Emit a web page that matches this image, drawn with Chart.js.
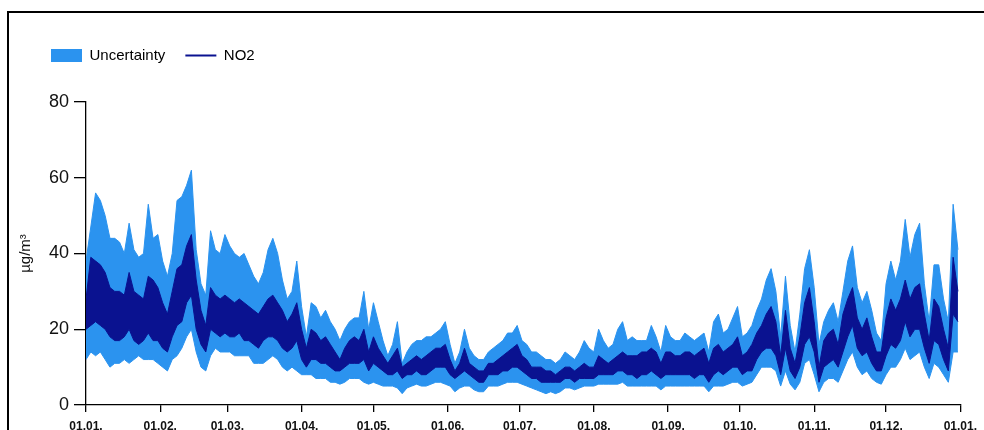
<!DOCTYPE html>
<html>
<head>
<meta charset="utf-8">
<script src="https://cdn.jsdelivr.net/npm/chart.js@4.4.1/dist/chart.umd.min.js"></script>
<style>
    html, body { margin: 0; padding: 0; background: #fff; }
</style>
</head>
<body>
<canvas id="grafico" width="984" height="430"></canvas>
<script>
// one value every 2 days, day 0 = 01.01.
const dayStep = 2;

const monthStarts = [0, 31, 59, 90, 120, 151, 181, 212, 243, 273, 304, 334, 365];
const tickLabels = ['01.01.', '01.02.', '01.03.', '01.04.', '01.05.', '01.06.', '01.07.',
    '01.08.', '01.09.', '01.10.', '01.11.', '01.12.', '01.01.'];

const uncertaintyHigh = [
    38, 47, 56, 54, 50, 44, 44, 43, 40, 48,
    41, 39, 40, 53, 44, 45, 38, 34, 40, 54,
    55, 58, 62, 41, 32, 29, 46, 41, 40, 45,
    42, 40, 39, 40, 37, 34, 32, 35, 41, 44,
    40, 33, 28, 30, 38, 26, 18, 27, 26, 23,
    25, 22, 20, 17, 20, 22, 23, 23, 30, 20,
    27, 22, 17, 13, 16, 22, 11, 14, 16, 17,
    17, 18, 18, 19, 20, 22, 16, 11, 14, 20,
    15, 13, 12, 12, 14, 15, 16, 17, 19, 19,
    21, 17, 16, 14, 14, 13, 12, 12, 11, 12,
    14, 13, 12, 14, 17, 15, 14, 20, 17, 15,
    16, 20, 22, 17, 18, 17, 17, 17, 21, 18,
    14, 21, 18, 17, 17, 19, 18, 17, 18, 19,
    14, 22, 24, 19, 20, 23, 26, 18, 19, 21,
    25, 28, 33, 36, 30, 18, 34, 21, 14, 24,
    36, 41, 31, 16, 22, 25, 27, 22, 30, 38,
    42, 31, 27, 30, 25, 19, 17, 32, 38, 33,
    38, 49, 39, 45, 48, 32, 22, 37, 37, 28,
    22, 53, 41
];

const no2High = [
    28, 39, 38, 37, 35, 31, 30, 30, 29, 35,
    30, 29, 28, 34, 33, 31, 27, 24, 30, 36,
    37, 42, 45, 33, 25, 21, 31, 29, 28, 29,
    28, 27, 28, 27, 26, 25, 24, 26, 28, 29,
    27, 25, 22, 24, 27, 20, 15, 20, 19, 17,
    18, 16, 14, 12, 15, 17, 18, 17, 20, 14,
    18, 15, 13, 11, 13, 15, 10, 11, 12, 13,
    12, 13, 14, 15, 15, 16, 12, 9, 11, 15,
    11, 10, 9, 9, 11, 11, 12, 13, 14, 15,
    16, 13, 12, 10, 10, 10, 9, 9, 8, 9,
    10, 10, 9, 10, 11, 10, 10, 13, 12, 11,
    12, 13, 14, 13, 13, 13, 14, 14, 15, 14,
    11, 14, 14, 13, 13, 14, 14, 13, 14, 15,
    11, 15, 16, 14, 15, 16, 18, 13, 14, 16,
    19, 21, 24, 26, 22, 13, 25, 15, 11, 18,
    27, 31, 22, 10, 17, 19, 20, 16, 24, 28,
    31, 23, 20, 23, 18, 14, 14, 23, 28, 25,
    28, 33, 28, 31, 32, 24, 17, 28, 26, 20,
    15, 39, 30
];

const no2Low = [
    20, 21, 22, 21, 20, 18, 17, 17, 18, 20,
    17, 16, 17, 19, 17, 17, 15, 14, 18, 21,
    22, 27, 29, 20, 16, 14, 20, 19, 18, 19,
    18, 18, 19, 17, 17, 16, 15, 17, 18, 18,
    17, 15, 14, 15, 17, 12, 10, 12, 12, 11,
    11, 10, 9, 9, 10, 11, 11, 11, 12, 9,
    11, 10, 9, 8, 8, 9, 7, 8, 8, 9,
    8, 8, 9, 10, 10, 10, 8, 7, 8, 9,
    8, 7, 6, 6, 8, 8, 8, 9, 9, 10,
    10, 9, 8, 7, 7, 6, 6, 6, 6, 6,
    7, 7, 6, 7, 7, 7, 7, 8, 8, 8,
    8, 9, 9, 8, 8, 7, 8, 8, 9, 8,
    7, 8, 8, 8, 8, 8, 8, 7, 8, 8,
    6, 8, 9, 8, 9, 10, 10, 8, 9, 9,
    12, 14, 15, 15, 13, 8, 15, 9, 7, 10,
    16, 18, 14, 6, 10, 11, 12, 10, 14, 18,
    21, 15, 13, 14, 11, 9, 9, 13, 16, 15,
    17, 22, 18, 20, 20, 15, 11, 17, 16, 12,
    9, 24, 22
];

const uncertaintyLow = [
    12, 14, 13, 14, 12, 10, 11, 11, 12, 11,
    12, 13, 12, 12, 12, 11, 10, 9, 12, 13,
    15, 18, 20, 14, 10, 9, 13, 15, 14, 14,
    14, 13, 13, 13, 13, 11, 11, 11, 12, 13,
    12, 10, 9, 10, 9, 8, 8, 8, 7, 7,
    7, 6, 6, 5.5, 6, 7, 7, 7, 6, 5.5,
    6, 5.5, 5, 5, 5, 4.5, 3, 4.5, 5, 5.5,
    5, 5, 5.5, 6, 6, 5.5, 5, 3.5, 4.5, 5,
    5, 4, 3.5, 3.5, 5, 5, 5, 5.5, 6, 6,
    6, 5.5, 5, 4.5, 4, 3.5, 3, 3.5, 3, 3.5,
    4.5, 4.5, 4, 4.5, 5, 5, 5, 5.5, 5.5, 5.5,
    5.5, 5.5, 6, 5, 5, 5, 5, 5, 5, 5,
    4, 5, 5, 5, 5, 5, 5, 5, 5, 5,
    3.5, 5, 5, 5, 5.5, 6, 6, 5, 5.5, 6,
    8, 10, 10, 10, 9, 5, 9, 5.5, 4, 6,
    11, 12, 8, 3.5, 6, 7, 7, 6, 9, 12,
    14, 10, 8, 9, 7, 6, 5.5, 8, 10, 10,
    12, 15, 12, 13, 14, 10, 7, 11, 10, 8,
    6, 14, 14
];

const azul = '#2b93ef';
const marinho = '#0a1290';

Chart.defaults.font.family = "'Liberation Sans', Arial, sans-serif";

function pontos(valores) {
    return valores.map((v, i) => ({ x: i * dayStep, y: v }));
}

function criarFaixa(label, valores, cor, fill, ordem) {
    return {
        label: label,
        data: pontos(valores),
        fill: fill,
        backgroundColor: cor,
        borderColor: cor,
        borderWidth: 1,
        pointRadius: 0,
        tension: 0,
        order: ordem
    };
}

// black frame of the original picture, legend offset and extra gap under it
const moldura = {
    id: 'moldura',
    beforeUpdate(chart) {
        const legenda = chart.legend;
        if (legenda && !legenda._ajustada) {
            const fitOriginal = legenda.fit;
            legenda.fit = function () {
                fitOriginal.call(this);
                this.height += 29;
            };
            legenda._ajustada = true;
        }
    },
    beforeDraw(chart) {
        const c = chart.ctx;
        c.save();
        c.fillStyle = '#fff';
        c.fillRect(0, 0, chart.width, chart.height);
        c.strokeStyle = '#000';
        c.lineWidth = 2;
        c.beginPath();
        c.moveTo(8, chart.height);
        c.lineTo(8, 12);
        c.lineTo(chart.width, 12);
        c.stroke();
        c.restore();
        chart.legend.left = 31;
    }
};

new Chart(document.getElementById('grafico').getContext('2d'), {
    type: 'line',
    data: {
        datasets: [
            criarFaixa('Uncertainty', uncertaintyHigh, azul, '+1', 2),
            criarFaixa('Uncertainty low', uncertaintyLow, azul, false, 2),
            criarFaixa('NO2', no2High, marinho, '+1', 1),
            criarFaixa('NO2 low', no2Low, marinho, false, 1)
        ]
    },
    options: {
        responsive: false,
        animation: false,
        layout: {
            padding: { top: 28, right: 22, left: 0, bottom: 0 }
        },
        plugins: {
            tooltip: { enabled: false },
            legend: {
                position: 'top',
                align: 'start',
                labels: {
                    usePointStyle: true,
                    pointStyleWidth: 31,
                    boxHeight: 13,
                    padding: 20,
                    color: '#222',
                    font: { size: 15 },
                    generateLabels: () => [
                        { text: 'Uncertainty', fillStyle: azul, strokeStyle: azul, lineWidth: 0,
                          pointStyle: 'rect', datasetIndex: 0, hidden: false },
                        { text: 'NO2', fillStyle: marinho, strokeStyle: marinho, lineWidth: 2,
                          pointStyle: 'line', datasetIndex: 2, hidden: false }
                    ]
                }
            }
        },
        scales: {
            x: {
                type: 'linear',
                min: 0,
                max: 365,
                afterBuildTicks(scale) {
                    scale.ticks = monthStarts.map(v => ({ value: v }));
                },
                afterFit(scale) {
                    scale.height = 25;
                },
                ticks: {
                    autoSkip: false,
                    maxRotation: 0,
                    padding: 7,
                    color: '#111',
                    font: { size: 12, weight: 'bold' },
                    callback: (v, i) => tickLabels[i]
                },
                grid: { drawOnChartArea: false, tickLength: 7, color: '#000', lineWidth: 1.3 },
                border: { color: '#000', width: 1.3 }
            },
            y: {
                min: 0,
                max: 80,
                afterFit(scale) {
                    scale.width = 86;
                },
                ticks: {
                    stepSize: 20,
                    padding: 5,
                    color: '#111',
                    font: { size: 18 }
                },
                grid: { drawOnChartArea: false, tickLength: 12, color: '#000', lineWidth: 1.3 },
                border: { color: '#000', width: 1.3 },
                title: {
                    display: true,
                    text: 'µg/m³',
                    color: '#111',
                    font: { size: 15 },
                    padding: { top: 17, bottom: 0 }
                }
            }
        }
    },
    plugins: [moldura]
});
</script>
</body>
</html>
